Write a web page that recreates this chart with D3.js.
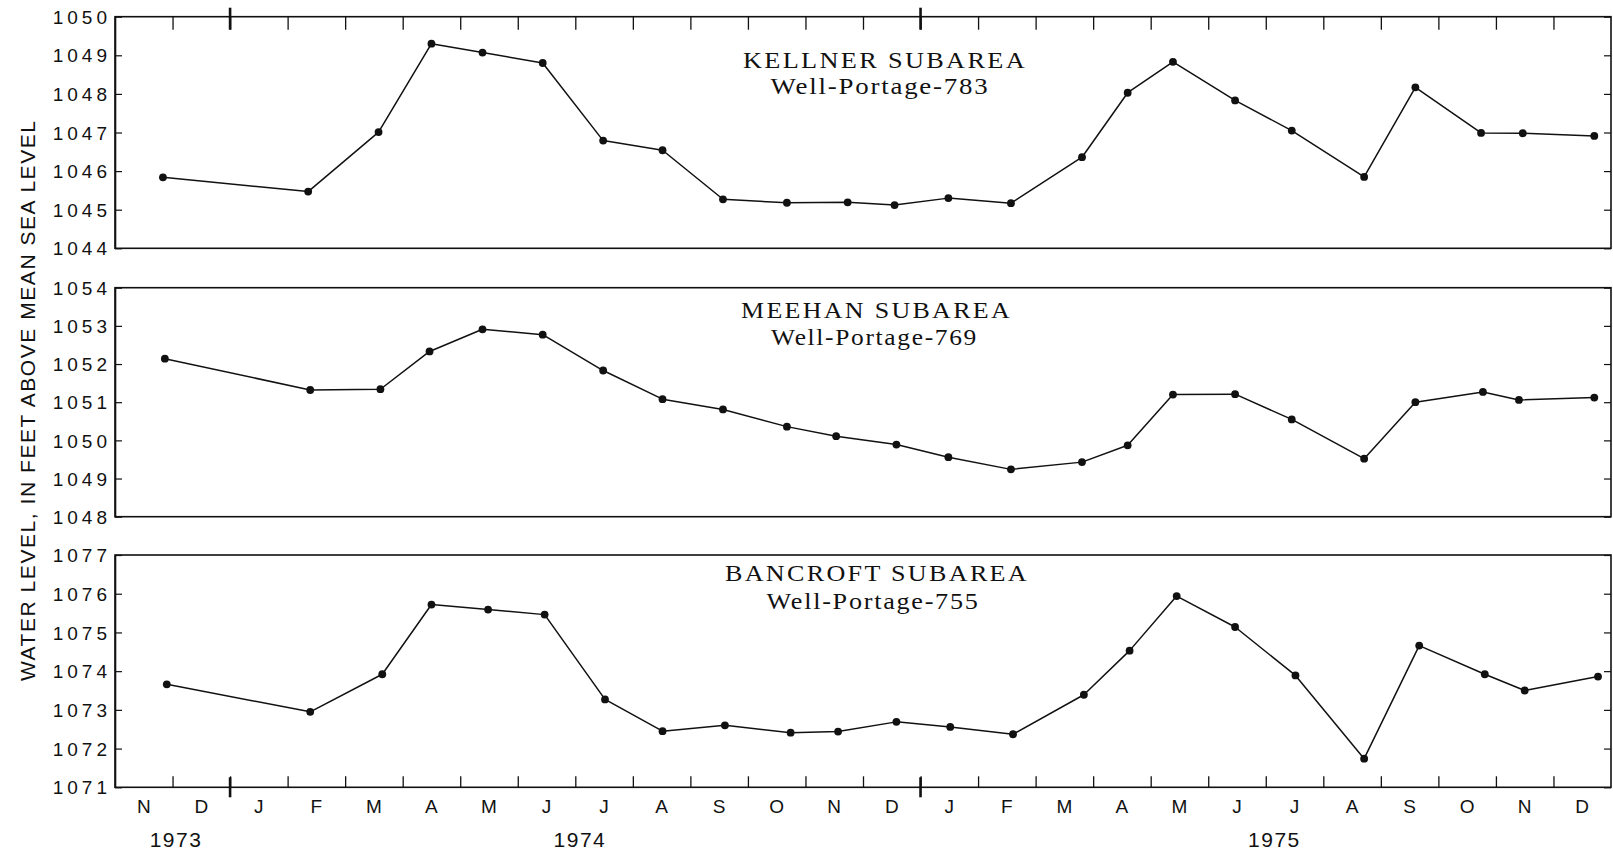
<!DOCTYPE html>
<html>
<head>
<meta charset="utf-8">
<script src="https://cdn.jsdelivr.net/npm/d3@7"></script>
<style>
  body { margin: 0; background: #fff; }
  svg { display: block; }
</style>
</head>
<body>
<svg id="chart" width="1613" height="852"></svg>
<script>
// Month initials along the bottom axis, November 1973 through December 1975
const monthLabels = ["N","D","J","F","M","A","M","J","J","A","S","O","N","D",
                     "J","F","M","A","M","J","J","A","S","O","N","D"];
const yearLabels = ["1973", "1974", "1975"];
// where each year label sits, in months after 1 November 1973
const yearLabelMonths = [1.06, 8.08, 20.15];
// January 1974 and January 1975, in months after 1 November 1973
const yearBoundaries = [2, 14];

// Kellner subarea, Well-Portage-783
const kellnerDates = ["1973-11-26","1974-02-11","1974-03-19","1974-04-16","1974-05-13","1974-06-14",
  "1974-07-16","1974-08-17","1974-09-18","1974-10-22","1974-11-23","1974-12-18",
  "1975-01-16","1975-02-17","1975-03-26","1975-04-19","1975-05-13","1975-06-15",
  "1975-07-15","1975-08-23","1975-09-19","1975-10-24","1975-11-15","1975-12-23"];
const kellnerLevels = [1045.84, 1045.47, 1047.01, 1049.30, 1049.07, 1048.80,
  1046.79, 1046.54, 1045.27, 1045.18, 1045.19, 1045.12,
  1045.30, 1045.17, 1046.36, 1048.03, 1048.83, 1047.83,
  1047.05, 1045.85, 1048.17, 1046.99, 1046.98, 1046.91];

// Meehan subarea, Well-Portage-769
const meehanDates = ["1973-11-27","1974-02-12","1974-03-20","1974-04-15","1974-05-13","1974-06-14",
  "1974-07-16","1974-08-17","1974-09-18","1974-10-22","1974-11-17","1974-12-19",
  "1975-01-16","1975-02-17","1975-03-26","1975-04-19","1975-05-13","1975-06-15",
  "1975-07-15","1975-08-23","1975-09-19","1975-10-25","1975-11-13","1975-12-23"];
const meehanLevels = [1052.14, 1051.32, 1051.34, 1052.33, 1052.91, 1052.77,
  1051.83, 1051.08, 1050.81, 1050.36, 1050.11, 1049.89,
  1049.56, 1049.24, 1049.43, 1049.87, 1051.20, 1051.21,
  1050.55, 1049.52, 1051.00, 1051.27, 1051.06, 1051.12];

// Bancroft subarea, Well-Portage-755
const bancroftDates = ["1973-11-28","1974-02-12","1974-03-21","1974-04-16","1974-05-16","1974-06-15",
  "1974-07-17","1974-08-17","1974-09-19","1974-10-24","1974-11-18","1974-12-19",
  "1975-01-17","1975-02-18","1975-03-27","1975-04-20","1975-05-15","1975-06-15",
  "1975-07-17","1975-08-23","1975-09-21","1975-10-26","1975-11-16","1975-12-25"];
const bancroftLevels = [1073.66, 1072.95, 1073.92, 1075.72, 1075.59, 1075.46,
  1073.27, 1072.45, 1072.60, 1072.41, 1072.44, 1072.69,
  1072.56, 1072.37, 1073.39, 1074.53, 1075.94, 1075.14,
  1073.89, 1071.74, 1074.66, 1073.92, 1073.50, 1073.86];

// Panel setup (layout and labels)
const panels = [
  { title: "KELLNER SUBAREA", well: "Well-Portage-783", dates: kellnerDates, levels: kellnerLevels,
    domain: [1044, 1050], top: 16.7, bottom: 248.3,
    titleX: 885, titleY: 68.3, titleW: 284, wellX: 880, wellY: 94, wellW: 219 },
  { title: "MEEHAN SUBAREA", well: "Well-Portage-769", dates: meehanDates, levels: meehanLevels,
    domain: [1048, 1054], top: 287.7, bottom: 516.7,
    titleX: 876.5, titleY: 318.3, titleW: 271, wellX: 874.5, wellY: 345, wellW: 207 },
  { title: "BANCROFT SUBAREA", well: "Well-Portage-755", dates: bancroftDates, levels: bancroftLevels,
    domain: [1071, 1077], top: 555, bottom: 787.3,
    titleX: 877, titleY: 580.7, titleW: 304, wellX: 873, wellY: 609.3, wellW: 213 }
];

const left = 115, right = 1611;
const svg = d3.select("#chart");
const sans = "'Liberation Sans', Arial, Helvetica, sans-serif";
const serif = "'Liberation Serif', 'Times New Roman', serif";

// months elapsed since 1 November 1973, with the day as a fraction of its month
const parse = d3.timeParse("%Y-%m-%d");
function monthPosition(s) {
  const d = parse(s);
  const start = d3.timeMonth.floor(d);
  const next = d3.timeMonth.offset(start, 1);
  const idx = (d.getFullYear() - 1973) * 12 + d.getMonth() - 10;
  return idx + (d - start) / (next - start);
}

const x = d3.scaleLinear().domain([0, 26]).range([left, right]);
const monthBounds = d3.range(1, 26);

panels.forEach((p, pi) => {
  const y = d3.scaleLinear().domain(p.domain).range([p.bottom, p.top]);
  const g = svg.append("g");

  // frame
  g.append("rect")
    .attr("x", left).attr("y", p.top)
    .attr("width", right - left).attr("height", p.bottom - p.top)
    .attr("fill", "none").attr("stroke", "#111").attr("stroke-width", 1.6);

  // left axis: ticks pointing inward, labels outside
  const ly = g.append("g").attr("transform", `translate(${left},0)`)
    .call(d3.axisLeft(y).ticks(6).tickSizeInner(-7).tickSizeOuter(0)
      .tickPadding(4).tickFormat(d3.format("d")));
  ly.select(".domain").attr("stroke", "#111").attr("stroke-width", 1.6);
  ly.selectAll(".tick line").attr("stroke", "#111").attr("stroke-width", 1.2);
  ly.selectAll(".tick text")
    .attr("font-family", sans).attr("font-size", 19).attr("fill", "#111")
    .attr("letter-spacing", "4px").attr("dy", "0.35em");

  // right edge ticks
  const ry = g.append("g").attr("transform", `translate(${right},0)`)
    .call(d3.axisRight(y).ticks(6).tickSizeInner(-7).tickSizeOuter(0).tickFormat(""));
  ry.select(".domain").remove();
  ry.selectAll(".tick line").attr("stroke", "#111").attr("stroke-width", 1.2);

  if (pi === 0) {
    // month boundary ticks along the top edge
    const tx = g.append("g").attr("transform", `translate(0,${p.top})`)
      .call(d3.axisTop(x).tickValues(monthBounds).tickSizeInner(-13).tickSizeOuter(0).tickFormat(""));
    tx.select(".domain").remove();
    tx.selectAll(".tick line").attr("stroke", "#111").attr("stroke-width", 1.3);
    g.selectAll(".yearTop").data(yearBoundaries).join("line")
      .attr("x1", d => x(d)).attr("x2", d => x(d))
      .attr("y1", p.top - 9).attr("y2", p.top + 13)
      .attr("stroke", "#111").attr("stroke-width", 2.6);
  }

  if (pi === panels.length - 1) {
    // month boundary ticks along the bottom edge
    const bx = g.append("g").attr("transform", `translate(0,${p.bottom})`)
      .call(d3.axisBottom(x).tickValues(monthBounds).tickSizeInner(-11).tickSizeOuter(0).tickFormat(""));
    bx.select(".domain").remove();
    bx.selectAll(".tick line").attr("stroke", "#111").attr("stroke-width", 1.3);
    g.selectAll(".yearBottom").data(yearBoundaries).join("line")
      .attr("x1", d => x(d)).attr("x2", d => x(d))
      .attr("y1", p.bottom - 10).attr("y2", p.bottom + 10)
      .attr("stroke", "#111").attr("stroke-width", 2.6);

    // month initials centred in each month
    g.selectAll(".month").data(monthLabels).join("text")
      .attr("x", (d, i) => x(i + 0.5)).attr("y", p.bottom + 26)
      .attr("text-anchor", "middle")
      .attr("font-family", sans).attr("font-size", 19).attr("fill", "#111")
      .text(d => d);

    // years
    g.selectAll(".year").data(yearLabels).join("text")
      .attr("x", (d, i) => x(yearLabelMonths[i])).attr("y", p.bottom + 59.4)
      .attr("text-anchor", "middle")
      .attr("font-family", sans).attr("font-size", 21).attr("fill", "#111")
      .attr("letter-spacing", "1.5px")
      .text(d => d);
  }

  // panel titles: wide, lightly tracked serif lettering
  g.append("text")
    .attr("x", p.titleX).attr("y", p.titleY).attr("text-anchor", "middle")
    .attr("font-family", serif).attr("font-size", 22.5).attr("fill", "#111")
    .attr("letter-spacing", "2px")
    .attr("textLength", p.titleW).attr("lengthAdjust", "spacingAndGlyphs")
    .text(p.title);
  g.append("text")
    .attr("x", p.wellX).attr("y", p.wellY).attr("text-anchor", "middle")
    .attr("font-family", serif).attr("font-size", 22.5).attr("fill", "#111")
    .attr("letter-spacing", "1.5px")
    .attr("textLength", p.wellW).attr("lengthAdjust", "spacingAndGlyphs")
    .text(p.well);

  // water-level hydrograph
  const pts = p.dates.map((d, i) => ({ m: monthPosition(d), v: p.levels[i] }));
  g.append("path").datum(pts)
    .attr("fill", "none").attr("stroke", "#111").attr("stroke-width", 1.5)
    .attr("stroke-linejoin", "round")
    .attr("d", d3.line().x(d => x(d.m)).y(d => y(d.v)));
  g.selectAll(".pt").data(pts).join("circle")
    .attr("cx", d => x(d.m)).attr("cy", d => y(d.v)).attr("r", 3.9)
    .attr("fill", "#111");
});

// shared vertical axis title
svg.append("text")
  .attr("transform", "translate(34.5,401) rotate(-90)")
  .attr("text-anchor", "middle")
  .attr("font-family", sans).attr("font-size", 21).attr("fill", "#111")
  .attr("textLength", 560).attr("lengthAdjust", "spacing")
  .text("WATER LEVEL, IN FEET ABOVE MEAN SEA LEVEL");
</script>
</body>
</html>
